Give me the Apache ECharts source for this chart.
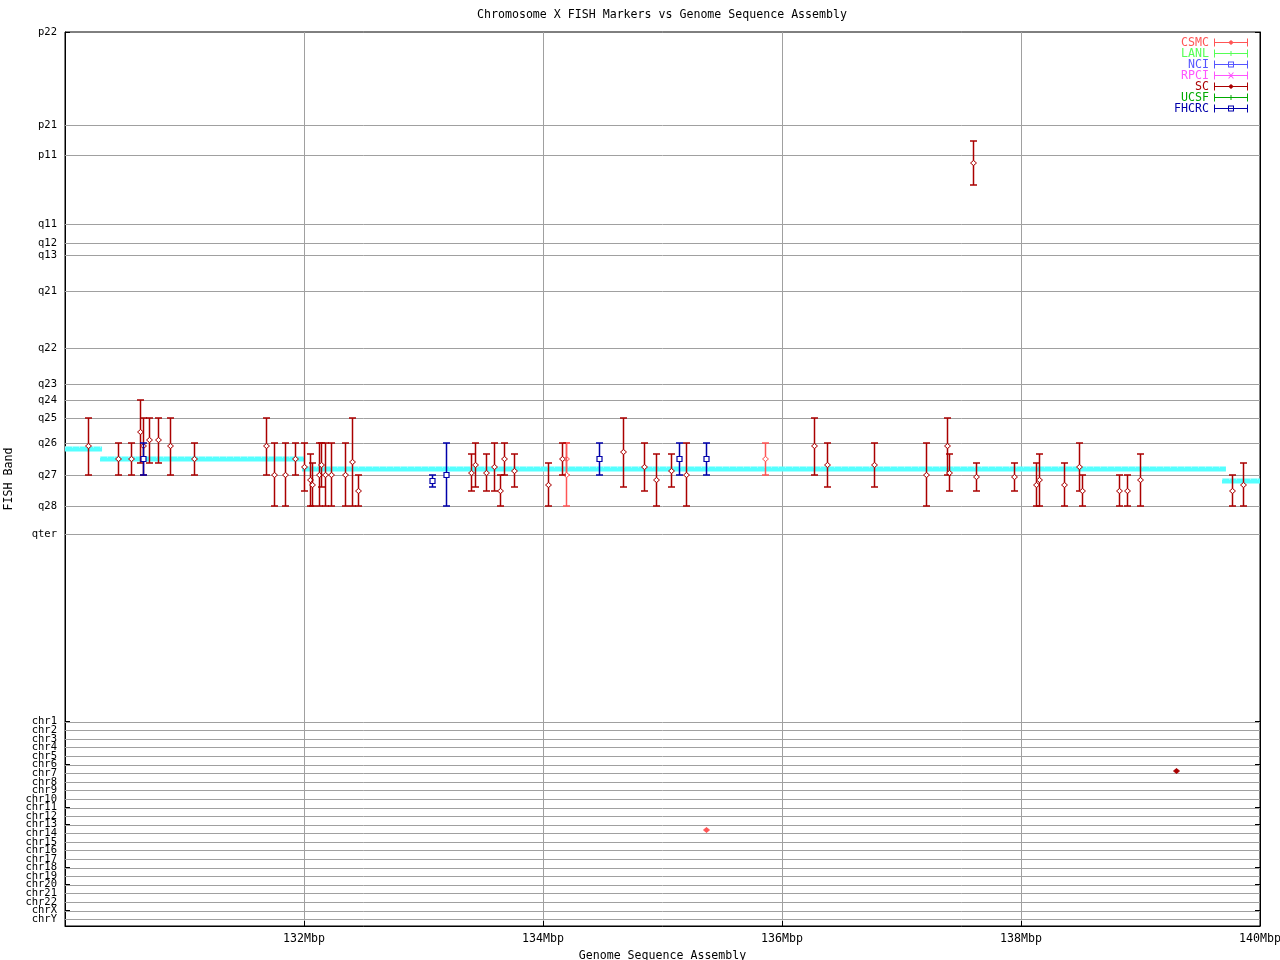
<!DOCTYPE html>
<html>
<head>
<meta charset="utf-8">
<script src="https://cdn.jsdelivr.net/npm/echarts@6/dist/echarts.min.js"></script>
<style>html,body{margin:0;padding:0;background:#fff}#c{width:1280px;height:960px}</style>
</head>
<body>
<div id="c"></div>
<script>
// ---- axis definitions ----
const xTicks = [130, 132, 134, 136, 138, 140]; // Mbp
const bandNames = ['p22','p21','p11','q11','q12','q13','q21','q22','q23','q24','q25','q26','q27','q28','qter',
  'chr1','chr2','chr3','chr4','chr5','chr6','chr7','chr8','chr9','chr10','chr11','chr12','chr13','chr14',
  'chr15','chr16','chr17','chr18','chr19','chr20','chr21','chr22','chrX','chrY'];
const bandPos = [0, 93, 123, 192, 211, 223, 259, 316, 352, 368, 386, 411, 443, 474, 502,
  689.7, 698.3, 706.9, 715.4, 724.0, 732.6, 741.2, 749.8, 758.3, 766.9, 775.5, 784.1, 792.7, 801.2,
  809.8, 818.4, 827.0, 835.6, 844.1, 852.7, 861.3, 869.9, 878.5, 887.0];
const yMax = 894;

// ---- assembly mapping segments: [startMbp, endMbp, band] ----
const assembly = [
  [130.000, 130.310, 417],
  [130.293, 132.008, 427],
  [131.983, 139.715, 437],
  [139.682, 140.000, 449]
];

// ---- FISH markers: [Mbp, bandTop, bandMid, bandBottom] ----
const scData = [
  [130.195,386,414,443],[130.446,411,427,443],[130.555,411,427,443],[130.630,368,400,431],
  [130.650,386,414,443],[130.705,386,408,431],[130.781,386,408,431],[130.881,386,414,443],
  [131.082,411,427,443],[131.684,386,414,443],[131.751,411,443,474],[131.843,411,443,474],
  [131.927,411,427,443],[132.003,411,435,459],[132.053,422,448,474],[132.064,431,453,474],
  [132.126,411,443,474],[132.140,411,433,455],[132.178,411,443,474],[132.223,411,443,474],
  [132.346,411,443,474],[132.404,386,430,474],[132.454,443,459,474],[133.400,422,441,459],
  [133.433,411,433,455],[133.526,422,441,459],[133.592,411,435,459],[133.638,443,459,474],
  [133.676,411,427,443],[133.760,422,439,455],[134.044,431,453,474],[134.162,411,427,443],
  [134.672,386,420,455],[134.848,411,435,459],[134.948,422,448,474],[135.074,422,439,455],
  [135.199,411,443,474],[136.270,386,414,443],[136.379,411,433,455],[136.772,411,433,455],
  [137.207,411,443,474],[137.383,386,414,443],[137.400,422,441,459],[137.601,109,131,153],
  [137.626,431,445,459],[137.944,431,445,459],[138.128,431,453,474],[138.153,422,448,474],
  [138.362,431,453,474],[138.488,411,435,459],[138.513,443,459,474],[138.820,443,459,474],
  [138.890,443,459,474],[138.998,422,448,474],[139.768,443,459,474],[139.860,431,453,474],
  [139.297,739,739,739]
];
const fhcrcData = [
  [130.655,411,427,443],[133.074,443,449,455],[133.191,411,443,474],
  [134.471,411,427,443],[135.140,411,427,443],[135.366,411,427,443]
];
const csmcData = [
  [134.195,411,427,443],[134.195,411,443,474],[135.860,411,427,443],[135.364,798,798,798]
];
const lanlData = [];
const nciData = [];
const rpciData = [];
const ucsfData = [];

const FONT = '"DejaVu Sans Mono", monospace';
const colors = {CSMC:'#ff5555', LANL:'#55ff55', NCI:'#5555ff', RPCI:'#ff55ff', SC:'#aa0000', UCSF:'#00aa00', FHCRC:'#0000aa'};
const markers = {CSMC:'diamond', LANL:'none', NCI:'square', RPCI:'cross', SC:'diamond', UCSF:'none', FHCRC:'square'};

// legend icons
const base = 'M0 3.5H34V4.5H0Z M0 0H1V8H0Z M33 0H34V8H33Z ';
const iconMark = {
  diamond: 'M17 1.5L19.8 4L17 6.5L14.2 4Z',
  square: 'M14 1H20V7H14Z M15 2V6H19V2Z',
  cross: 'M14 1L15.2 1L20 7L18.8 7Z M18.8 1L20 1L15.2 7L14 7Z',
  none: 'M16.5 1.5H17.5V6.5H16.5Z'
};

function errRender(kind){
  return function(params, api){
    const x = api.value(0), top = api.value(1), mid = api.value(2), bot = api.value(3);
    const pT = api.coord([x, top]), pM = api.coord([x, mid]), pB = api.coord([x, bot]);
    const color = api.visual('color');
    const cx = Math.round(pT[0]) + 0.5;
    const ch = [];
    const hasBar = bot !== top;
    if (hasBar) {
      ch.push({type:'line', shape:{x1:cx, y1:pT[1], x2:cx, y2:pB[1]}, style:{stroke:color, lineWidth:1.5}});
      ch.push({type:'line', shape:{x1:cx-3.5, y1:pT[1], x2:cx+3.5, y2:pT[1]}, style:{stroke:color, lineWidth:1.5}});
      ch.push({type:'line', shape:{x1:cx-3.5, y1:pB[1], x2:cx+3.5, y2:pB[1]}, style:{stroke:color, lineWidth:1.5}});
    }
    const my = pM[1];
    const fill = hasBar ? '#fff' : color;
    if (kind === 'diamond') {
      ch.push({type:'polygon', shape:{points:[[cx,my-2.5],[cx+3,my],[cx,my+2.5],[cx-3,my]]}, style:{stroke:color, fill:fill, lineWidth:1}});
    } else if (kind === 'square') {
      ch.push({type:'rect', shape:{x:cx-2.5, y:Math.round(my)-2.5, width:5, height:5}, style:{stroke:color, fill:fill, lineWidth:1.2}});
    } else if (kind === 'cross') {
      ch.push({type:'line', shape:{x1:cx-2.5,y1:my-2.5,x2:cx+2.5,y2:my+2.5}, style:{stroke:color,lineWidth:1}});
      ch.push({type:'line', shape:{x1:cx-2.5,y1:my+2.5,x2:cx+2.5,y2:my-2.5}, style:{stroke:color,lineWidth:1}});
    }
    return {type:'group', children: ch};
  };
}

function errSeries(name, data){
  return {
    name: name, type: 'custom', data: data, z: 5,
    itemStyle: {color: colors[name]},
    encode: {x: 0, y: [1,2,3]},
    renderItem: errRender(markers[name]),
    silent: true
  };
}

function bandLabel(v){
  let best = 0, bd = 1e9;
  bandPos.forEach((p,i) => { const d = Math.abs(p - v); if (d < bd) { bd = d; best = i; } });
  return bandNames[best];
}
// labels split over two stacked left axes so that adjacent labels never collide
const evenPos = bandPos.filter((p,i) => i % 2 === 0);
const oddPos = bandPos.filter((p,i) => i % 2 === 1);
const yLabelStyle = {fontFamily: FONT, fontSize: 10.5, color: '#000', margin: 8,
  showMinLabel: true, showMaxLabel: true, hideOverlap: false, formatter: bandLabel};

const legendOrder = ['CSMC','LANL','NCI','RPCI','SC','UCSF','FHCRC'];

const chart = echarts.init(document.getElementById('c'), null, {renderer:'canvas'});
chart.setOption({
  backgroundColor: '#fff',
  animation: false,
  graphic: [{
    type: 'text', x: 662, y: 15, z: 10,
    style: {text: 'Chromosome X FISH Markers vs Genome Sequence Assembly', font: '11.6px ' + FONT, fill: '#000', align: 'center', verticalAlign: 'middle'}
  }],
  grid: {left: 65, right: 20, top: 32, bottom: 34, show: true, borderColor: '#000', borderWidth: 1,
    backgroundColor: 'transparent', containLabel: false, outerBoundsMode: 'none'},
  legend: {
    orient: 'vertical', right: 32, top: 36.5, padding: 0, itemGap: -1.0, align: 'right',
    itemWidth: 34, itemHeight: 8, selectedMode: false,
    textStyle: {fontFamily: FONT, fontSize: 11.6, lineHeight: 12},
    data: legendOrder.map(n => ({name: n, icon: 'path://' + base + iconMark[markers[n]], textStyle: {color: colors[n]}}))
  },
  xAxis: {
    type: 'value', min: 130, max: 140, interval: 2, position: 'bottom',
    name: 'Genome Sequence Assembly', nameLocation: 'middle', nameGap: 20,
    nameTextStyle: {fontFamily: FONT, fontSize: 11.6, color: '#000'},
    axisLine: {show: true, onZero: false, lineStyle: {color: '#000'}},
    axisTick: {inside: true, length: 5, lineStyle: {color: '#000'}},
    axisLabel: {fontFamily: FONT, fontSize: 11.6, color: '#000', margin: 7,
      formatter: v => (v === xTicks[0] ? '' : v + 'Mbp')},
    splitLine: {show: true, lineStyle: {color: '#a0a0a0', width: 1}}
  },
  yAxis: [{
    type: 'value', inverse: true, min: 0, max: yMax, position: 'left', offset: 0,
    name: 'FISH Band', nameLocation: 'middle', nameGap: 42,
    nameTextStyle: {fontFamily: FONT, fontSize: 11.6, color: '#000'},
    axisLine: {show: true, onZero: false, lineStyle: {color: '#000'}},
    axisTick: {inside: true, length: 5, customValues: bandPos, lineStyle: {color: '#000'}},
    axisLabel: Object.assign({customValues: evenPos}, yLabelStyle),
    splitLine: {show: false}
  }, {
    type: 'value', inverse: true, min: 0, max: yMax, position: 'right',
    axisLine: {show: true, onZero: false, lineStyle: {color: '#000'}},
    axisTick: {inside: true, length: 5, customValues: bandPos, lineStyle: {color: '#000'}},
    axisLabel: {show: false},
    splitLine: {show: false}
  }, {
    type: 'value', inverse: true, min: 0, max: yMax, position: 'left', offset: 0,
    axisLine: {show: false, onZero: false},
    axisTick: {show: false},
    axisLabel: Object.assign({customValues: oddPos}, yLabelStyle),
    splitLine: {show: false}
  }],
  series: [
    {
      name: 'grid', type: 'custom', z: 1, silent: true,
      data: bandPos.slice(1).map(v => [v]),
      encode: {y: 0},
      renderItem: function(params, api){
        const v = api.value(0);
        const p1 = api.coord([130, v]), p2 = api.coord([140, v]);
        const y = Math.round(p1[1]) + 0.5;
        return {type:'line', shape:{x1:p1[0], y1:y, x2:p2[0], y2:y}, style:{stroke:'#a0a0a0', lineWidth:1}};
      }
    },
    {
      name: 'assembly', type: 'custom', z: 3, silent: true,
      data: assembly,
      encode: {x: [0,1], y: 2},
      renderItem: function(params, api){
        const a = api.coord([api.value(0), api.value(2)]);
        const b = api.coord([api.value(1), api.value(2)]);
        return {type:'group', children:[
          {type:'rect', shape:{x:a[0], y:a[1]-2.5, width:b[0]-a[0], height:5}, style:{fill:'#55ffff'}},
          {type:'line', shape:{x1:a[0], y1:a[1]-2, x2:b[0], y2:b[1]-2}, style:{stroke:'#d8ffff', lineWidth:1, lineDash:[1,6]}}
        ]};
      }
    },
    errSeries('CSMC', csmcData),
    errSeries('LANL', lanlData),
    errSeries('NCI', nciData),
    errSeries('RPCI', rpciData),
    errSeries('SC', scData),
    errSeries('UCSF', ucsfData),
    errSeries('FHCRC', fhcrcData)
  ]
});
</script>
</body>
</html>
